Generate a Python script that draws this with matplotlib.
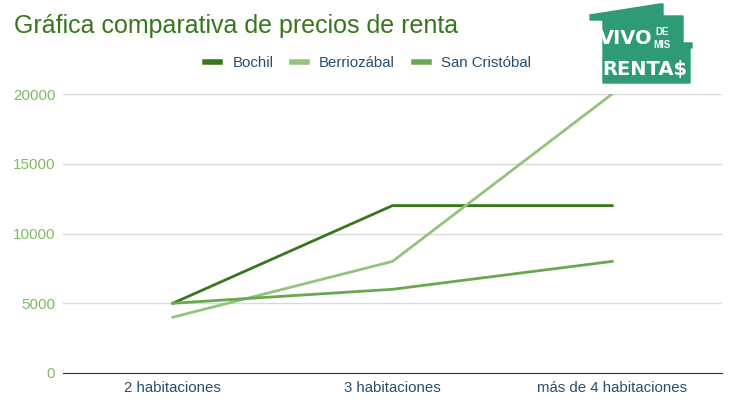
import matplotlib.pyplot as plt
from matplotlib.patches import Polygon

categories = ['2 habitaciones', '3 habitaciones', 'más de 4 habitaciones']
bochil = [5000, 12000, 12000]
berriozabal = [4000, 8000, 20000]
san_cristobal = [5000, 6000, 8000]
y_ticks = [0, 5000, 10000, 15000, 20000]

plt.rcParams['font.family'] = ['Liberation Sans', 'DejaVu Sans']

W, H = 731, 401
fig = plt.figure(figsize=(W / 100, H / 100), dpi=100)
ax = fig.add_axes([63 / W, 1 - 373 / H, (722 - 63) / W, (373 - 94) / H])

x = range(len(categories))
ax.plot(x, bochil, color='#38761d', lw=2, label='Bochil')
ax.plot(x, berriozabal, color='#93c47d', lw=2, label='Berriozábal')
ax.plot(x, san_cristobal, color='#6aa84f', lw=2, label='San Cristóbal')

ax.set_xlim(-0.5, 2.5)
ax.set_ylim(0, 20000)
ax.set_yticks(y_ticks)
ax.set_yticklabels([str(v) for v in y_ticks], color='#7fba63', fontsize=11)
ax.set_xticks(list(x))
ax.set_xticklabels(categories, color='#274e6d', fontsize=10.8)
ax.tick_params(length=0)
ax.tick_params(axis='y', pad=5.5)
ax.tick_params(axis='x', pad=6)
ax.yaxis.grid(True, color='#d9d9d9', lw=1)
ax.set_axisbelow(True)
for s in ['top', 'right', 'left']:
    ax.spines[s].set_visible(False)
ax.spines['bottom'].set_color('#333333')
ax.spines['bottom'].set_zorder(5)

fig.text(14 / W, 1 - 26 / H, 'Gráfica comparativa de precios de renta',
         color='#38761d', fontsize=18, va='center', ha='left')

fig.legend(loc='center', bbox_to_anchor=(368 / W, 1 - 63 / H), ncol=3, frameon=False,
           fontsize=10.8, handlelength=1.0, handletextpad=0.8, columnspacing=1.25,
           labelcolor='#274e6d')
for h in fig.legends[0].legend_handles:
    h.set_linewidth(4)

# logo
lg = fig.add_axes([0, 0, 1, 1], zorder=10)
lg.set_xlim(0, W)
lg.set_ylim(H, 0)
lg.axis('off')
pts = [(590, 20), (590, 15), (660, 4), (663, 4), (663, 16), (683, 16), (683, 43),
       (692, 43), (692, 48), (690, 48), (690, 83), (603, 83), (603, 20)]
lg.add_patch(Polygon(pts, closed=True, color='#2e9b74'))
lg.text(626, 39, 'VIVO', color='white', fontsize=14, fontweight='bold',
        ha='center', va='center', family='DejaVu Sans')
lg.text(662, 32, 'DE', color='white', fontsize=7, fontweight='bold', ha='center', va='center')
lg.text(662, 45, 'MIS', color='white', fontsize=7, fontweight='bold', ha='center', va='center')
lg.text(645, 69, 'RENTA$', color='white', fontsize=14, fontweight='bold',
        ha='center', va='center', family='DejaVu Sans')

fig.savefig('out.png', dpi=100)
